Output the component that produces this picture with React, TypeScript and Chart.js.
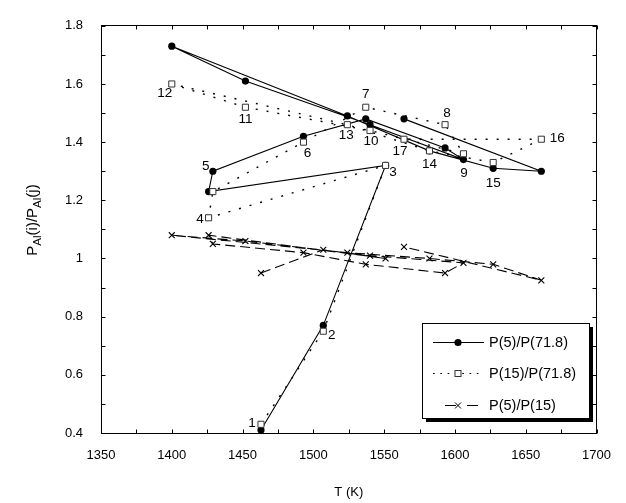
import React, { useEffect, useRef } from "react";
import { Chart, registerables } from "chart.js";

Chart.register(...registerables);

// ---- data ----
const runNumbers = ["1", "2", "3", "4", "5", "6", "7", "8", "9", "10", "11", "12", "13", "14", "15", "16", "17"];
const temperatureK = [1463, 1507, 1551, 1426, 1429, 1493, 1537, 1593, 1606, 1540, 1452, 1400, 1524, 1582, 1627, 1661, 1564];
const ratioP5P718 = [0.41, 0.77, 1.32, 1.23, 1.3, 1.42, 1.48, 1.38, 1.34, 1.46, 1.61, 1.73, 1.49, 1.37, 1.31, 1.3, 1.48];
const ratioP15P718 = [0.43, 0.75, 1.32, 1.14, 1.23, 1.4, 1.52, 1.46, 1.36, 1.44, 1.52, 1.6, 1.46, 1.37, 1.33, 1.41, 1.41];
const ratioP5P15 = [0.95, 1.03, 1.0, 1.08, 1.05, 1.02, 0.98, 0.95, 0.985, 1.01, 1.06, 1.08, 1.02, 1.0, 0.98, 0.925, 1.04];
const xTickValues = [1350, 1400, 1450, 1500, 1550, 1600, 1650, 1700];
const yTickValues = [0.4, 0.6, 0.8, 1, 1.2, 1.4, 1.6, 1.8];
const seriesNames = ["P(5)/P(71.8)", "P(15)/P(71.8)", "P(5)/P(15)"];
const xAxisTitle = "T (K)";

// ---- styling ----
const FONT = 'Arial, "Liberation Sans", Helvetica, sans-serif';
// pixel offsets of each run-number label from its square marker
const runLabelOffsets: [number, number][] = [
  [-9, -1], [8.5, 4], [7.5, 7], [-8.5, 1.5], [-7, -25], [4, 11], [0, -13], [2, -11], [0.5, 20],
  [1, 11], [0, 12], [-7, 9], [-1, 11], [0, 13], [0, 21], [16, -1], [-4, 12],
];

function toPoints(ys: number[]) {
  return temperatureK.map((t, i) => ({ x: t, y: ys[i] }));
}

function drawMarker(ctx: CanvasRenderingContext2D, kind: string, x: number, y: number) {
  ctx.save();
  ctx.setLineDash([]);
  ctx.lineWidth = 1;
  if (kind === "circle") {
    ctx.fillStyle = "#000";
    ctx.beginPath();
    ctx.arc(x, y, 3.6, 0, Math.PI * 2);
    ctx.fill();
  } else if (kind === "rect") {
    ctx.fillStyle = "#fff";
    ctx.strokeStyle = "#333";
    ctx.fillRect(x - 3, y - 3, 6, 6);
    ctx.strokeRect(x - 3, y - 3, 6, 6);
  } else {
    ctx.strokeStyle = "#000";
    ctx.beginPath();
    ctx.moveTo(x - 3, y - 3);
    ctx.lineTo(x + 3, y + 3);
    ctx.moveTo(x + 3, y - 3);
    ctx.lineTo(x - 3, y + 3);
    ctx.stroke();
  }
  ctx.restore();
}

const decorPlugin = {
  id: "figureDecor",
  afterDraw(chart: any) {
    const { ctx, chartArea: a, scales } = chart;
    const xs = scales.x;
    const ys = scales.y;
    ctx.save();
    // frame
    const L = Math.floor(a.left) + 0.5;
    const R = Math.floor(a.right) + 0.5;
    const T = Math.floor(a.top) + 0.5;
    const B = Math.floor(a.bottom) + 0.5;
    ctx.strokeStyle = "#000";
    ctx.lineWidth = 1;
    ctx.setLineDash([]);
    ctx.strokeRect(L, T, R - L, B - T);
    // inward ticks (major + minor)
    ctx.beginPath();
    for (let v = 1350; v <= 1700; v += 25) {
      const px = Math.round(xs.getPixelForValue(v)) + 0.5;
      ctx.moveTo(px, B);
      ctx.lineTo(px, B - 4);
      ctx.moveTo(px, T);
      ctx.lineTo(px, T + 4);
    }
    for (let k = 4; k <= 18; k++) {
      const py = Math.round(ys.getPixelForValue(k / 10)) + 0.5;
      ctx.moveTo(L, py);
      ctx.lineTo(L + 4, py);
      ctx.moveTo(R, py);
      ctx.lineTo(R - 4, py);
    }
    ctx.stroke();

    // run labels
    ctx.fillStyle = "#000";
    ctx.font = `13.5px ${FONT}`;
    ctx.textAlign = "center";
    ctx.textBaseline = "middle";
    runNumbers.forEach((lab, i) => {
      const px = xs.getPixelForValue(temperatureK[i]) + runLabelOffsets[i][0];
      const py = ys.getPixelForValue(ratioP15P718[i]) + runLabelOffsets[i][1];
      ctx.fillText(lab, px, py);
    });

    // x title
    ctx.font = `13px ${FONT}`;
    ctx.fillText(xAxisTitle, (a.left + a.right) / 2, 492);

    // y title with subscripts (rotated)
    ctx.save();
    ctx.translate(32, 220);
    ctx.rotate(-Math.PI / 2);
    const parts: [string, boolean][] = [["P", false], ["Al", true], ["(i)/P", false], ["Al", true], ["(j)", false]];
    const mainF = `15px ${FONT}`;
    const subF = `11.5px ${FONT}`;
    let total = 0;
    parts.forEach(([t, s]) => {
      ctx.font = s ? subF : mainF;
      total += ctx.measureText(t).width;
    });
    let cx = -total / 2;
    ctx.textAlign = "left";
    ctx.textBaseline = "alphabetic";
    parts.forEach(([t, s]) => {
      ctx.font = s ? subF : mainF;
      ctx.fillText(t, cx, s ? 9 : 5);
      cx += ctx.measureText(t).width;
    });
    ctx.restore();

    // legend box with shadow
    const bx = 422, by = 323, bw = 167, bh = 95;
    ctx.fillStyle = "#000";
    ctx.fillRect(bx + 4, by + 4, bw, bh);
    ctx.fillStyle = "#fff";
    ctx.fillRect(bx, by, bw, bh);
    ctx.strokeStyle = "#000";
    ctx.lineWidth = 1;
    ctx.strokeRect(bx + 0.5, by + 0.5, bw, bh);
    const rows = [342, 373, 405];
    const x0 = 433, x1 = 484, xm = 458;
    const kinds = ["circle", "rect", "cross"];
    rows.forEach((ry, i) => {
      ctx.save();
      ctx.strokeStyle = "#000";
      ctx.lineWidth = 1;
      ctx.beginPath();
      if (i === 0) {
        ctx.setLineDash([]);
        ctx.moveTo(x0, ry + 0.5);
        ctx.lineTo(x1, ry + 0.5);
      } else if (i === 1) {
        ctx.setLineDash([1.7, 5.6]);
        ctx.moveTo(x0, ry + 0.5);
        ctx.lineTo(x1, ry + 0.5);
      } else {
        ctx.setLineDash([]);
        ctx.moveTo(xm - 13, ry + 0.5);
        ctx.lineTo(xm - 2, ry + 0.5);
        ctx.moveTo(xm + 9, ry + 0.5);
        ctx.lineTo(xm + 20, ry + 0.5);
      }
      ctx.stroke();
      ctx.restore();
      drawMarker(ctx, kinds[i], xm, ry + 0.5);
      ctx.fillStyle = "#000";
      ctx.font = `14.5px ${FONT}`;
      ctx.textAlign = "left";
      ctx.textBaseline = "middle";
      ctx.fillText(seriesNames[i], 489, ry + 1);
    });
    ctx.restore();
  },
};

export default function App() {
  const canvasRef = useRef<HTMLCanvasElement | null>(null);

  useEffect(() => {
    document.body.style.margin = "0";
    const canvas = canvasRef.current;
    if (!canvas) return;
    const chart = new Chart(canvas, {
      type: "scatter",
      data: {
        datasets: [
          {
            label: seriesNames[0],
            data: toPoints(ratioP5P718),
            showLine: true,
            borderColor: "#000",
            borderWidth: 1.1,
            backgroundColor: "#000",
            pointStyle: "circle",
            pointRadius: 3.6,
            pointBorderWidth: 0,
            pointBackgroundColor: "#000",
            order: 1,
          },
          {
            label: seriesNames[1],
            data: toPoints(ratioP15P718),
            showLine: true,
            borderColor: "#000",
            borderWidth: 1.4,
            borderDash: [2, 9],
            pointStyle: "rect",
            pointRadius: 4.3,
            pointBorderWidth: 1,
            pointBorderColor: "#333",
            pointBackgroundColor: "#fff",
            order: 0,
          },
          {
            label: seriesNames[2],
            data: toPoints(ratioP5P15),
            showLine: true,
            borderColor: "#000",
            borderWidth: 1.1,
            borderDash: [10, 5],
            pointStyle: "crossRot",
            pointRadius: 4.2,
            pointBorderWidth: 1.1,
            pointBorderColor: "#000",
            pointBackgroundColor: "#000",
            order: 2,
          },
        ],
      } as any,
      options: {
        animation: false,
        responsive: false,
        devicePixelRatio: 1,
        layout: { padding: { left: 0, right: 26, top: 15, bottom: 0 } },
        plugins: { legend: { display: false }, tooltip: { enabled: false } },
        scales: {
          x: {
            type: "linear",
            min: 1350,
            max: 1700,
            grid: { display: false, drawTicks: false },
            border: { display: false },
            afterBuildTicks: (scale: any) => {
              scale.ticks = xTickValues.map((v) => ({ value: v }));
            },
            afterFit: (scale: any) => {
              scale.height = 70;
            },
            ticks: {
              padding: 15,
              color: "#000",
              font: { family: FONT, size: 13 },
              maxRotation: 0,
              callback: (v: any) => String(v),
            },
          },
          y: {
            type: "linear",
            min: 0.4,
            max: 1.8,
            grid: { display: false, drawTicks: false },
            border: { display: false },
            afterBuildTicks: (scale: any) => {
              scale.ticks = yTickValues.map((v) => ({ value: v }));
            },
            afterFit: (scale: any) => {
              scale.width = 101;
            },
            ticks: {
              padding: 18,
              color: "#000",
              font: { family: FONT, size: 13 },
              callback: (v: any) => String(Math.round(v * 10) / 10),
            },
          },
        },
      } as any,
      plugins: [decorPlugin],
    });
    return () => chart.destroy();
  }, []);

  return <canvas ref={canvasRef} width={626} height={503} style={{ display: "block" }} />;
}
